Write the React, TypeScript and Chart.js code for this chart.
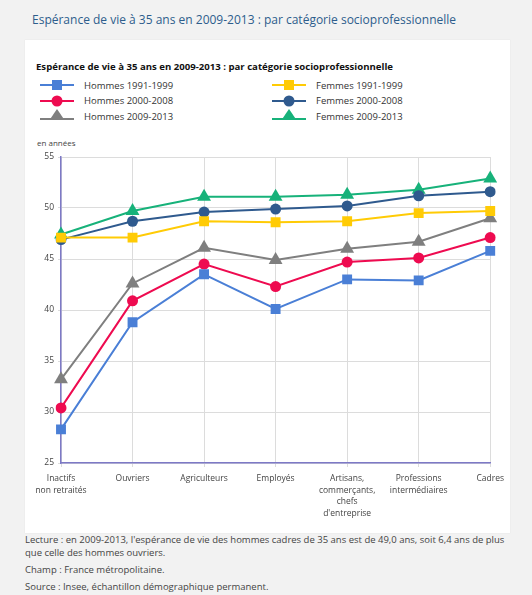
import React, { useEffect, useRef } from "react";
import { Chart, registerables } from "chart.js";
Chart.register(...registerables);

const categories: string[][] = [
  ["Inactifs", "non retraités"],
  ["Ouvriers"],
  ["Agriculteurs"],
  ["Employés"],
  ["Artisans,", "commerçants,", "chefs", "d'entreprise"],
  ["Professions", "intermédiaires"],
  ["Cadres"],
];
const hommes1991 = [28.3, 38.8, 43.5, 40.1, 43.0, 42.9, 45.8];
const hommes2000 = [30.4, 40.9, 44.5, 42.3, 44.7, 45.1, 47.1];
const hommes2009 = [33.2, 42.6, 46.1, 44.9, 46.0, 46.7, 49.0];
const femmes1991 = [47.1, 47.1, 48.7, 48.6, 48.7, 49.5, 49.7];
const femmes2000 = [46.9, 48.7, 49.6, 49.9, 50.2, 51.2, 51.6];
const femmes2009 = [47.4, 49.7, 51.1, 51.1, 51.3, 51.8, 52.9];
const yMin = 25;
const yMax = 55;
const yStep = 5;

const FONT = "'Open Sans', 'Noto Sans', sans-serif";

type S = { label: string; data: number[]; color: string; style: "rect" | "circle" | "triangle"; radius: number };
const series: S[] = [
  { label: "Hommes 1991-1999", data: hommes1991, color: "#4a7fd6", style: "rect", radius: 7 },
  { label: "Femmes 1991-1999", data: femmes1991, color: "#ffcb05", style: "rect", radius: 7 },
  { label: "Hommes 2000-2008", data: hommes2000, color: "#ee0b50", style: "circle", radius: 5.5 },
  { label: "Femmes 2000-2008", data: femmes2000, color: "#2f5a8e", style: "circle", radius: 5.5 },
  { label: "Hommes 2009-2013", data: hommes2009, color: "#7f7f7f", style: "triangle", radius: 8 },
  { label: "Femmes 2009-2013", data: femmes2009, color: "#17b27a", style: "triangle", radius: 8 },
];

function Marker({ s }: { s: S }) {
  let shape: React.ReactNode = null;
  if (s.style === "rect") shape = <rect x={12} y={2} width={10} height={10} fill={s.color} />;
  else if (s.style === "circle") shape = <circle cx={17} cy={7} r={5.5} fill={s.color} />;
  else shape = <polygon points="17,0 24.5,11 9.5,11" fill={s.color} />;
  return (
    <svg width={34} height={14} style={{ display: "block" }}>
      <line x1={0} y1={s.style === "triangle" ? 10 : 7} x2={34} y2={s.style === "triangle" ? 10 : 7} stroke={s.color} strokeWidth={2} />
      {shape}
    </svg>
  );
}

export default function App() {
  const ref = useRef<HTMLCanvasElement>(null);
  useEffect(() => {
    if (!ref.current) return;
    const chart = new Chart(ref.current, {
      type: "line",
      data: {
        labels: categories,
        datasets: series.map((s) => ({
          label: s.label,
          data: s.data,
          borderColor: s.color,
          backgroundColor: s.color,
          borderWidth: 2,
          pointStyle: s.style,
          pointRadius: s.radius,
          pointBorderWidth: 0,
          pointBackgroundColor: s.color,
          tension: 0,
        })),
      },
      options: {
        animation: false,
        responsive: false,
        maintainAspectRatio: false,
        layout: { padding: { left: 0, top: 27, right: 18, bottom: 0 } },
        plugins: { legend: { display: false }, tooltip: { enabled: false } },
        scales: {
          x: {
            offset: false,
            grid: { color: "#dcdcdc", lineWidth: 1, tickLength: 4 },
            border: { color: "#7d79c6", width: 1.5 },
            ticks: {
              autoSkip: false,
              maxRotation: 0,
              minRotation: 0,
              padding: 6,
              color: "#444",
              font: { family: FONT, size: 8.5, lineHeight: 1.35 },
            },
            afterFit: (sc: any) => {
              sc.height = 57;
            },
          },
          y: {
            min: yMin,
            max: yMax,
            ticks: {
              stepSize: yStep,
              color: "#444",
              padding: 4,
              font: { family: FONT, size: 8.5 },
            },
            grid: { color: "#dcdcdc", lineWidth: 1, tickLength: 3 },
            border: { color: "#7d79c6", width: 1.5 },
            afterFit: (sc: any) => {
              sc.width = 36;
            },
          },
        },
      },
    });
    return () => chart.destroy();
  }, []);

  return (
    <div style={{ position: "absolute", left: 0, top: 0, width: 532, height: 595, background: "#f2f2f2", fontFamily: FONT, overflow: "hidden" }}>
      <div style={{ position: "absolute", left: 32, top: 11, fontSize: 12, fontWeight: 500, color: "#2d5d8c", whiteSpace: "nowrap" }}>
        Espérance de vie à 35 ans en 2009-2013 : par catégorie socioprofessionnelle
      </div>
      <div style={{ position: "absolute", left: 25, top: 40, width: 485, height: 493, background: "#fff", boxShadow: "0 0 1px #ddd" }}>
        <div style={{ position: "absolute", left: 11, top: 20, fontSize: 9.6, fontWeight: 700, color: "#111", whiteSpace: "nowrap" }}>
          Espérance de vie à 35 ans en 2009-2013 : par catégorie socioprofessionnelle
        </div>
        {series.map((s, i) => {
          const col = i % 2;
          const row = Math.floor(i / 2);
          return (
            <div key={s.label} style={{ position: "absolute", left: col === 0 ? 15 : 247, top: 38 + row * 15.5, display: "flex", alignItems: "center" }}>
              <Marker s={s} />
              <span style={{ marginLeft: 10, fontSize: 9.5, color: "#333", whiteSpace: "nowrap" }}>{s.label}</span>
            </div>
          );
        })}
        <div style={{ position: "absolute", left: 12, top: 97, fontSize: 8, color: "#444", whiteSpace: "nowrap" }}>en années</div>
        <canvas ref={ref} width={485} height={390} style={{ position: "absolute", left: 0, top: 90, width: 485, height: 390 }} />
      </div>
      <div style={{ position: "absolute", left: 25, top: 533, width: 490, fontSize: 9.5, color: "#444", lineHeight: "13px" }}>
        <div>Lecture : en 2009-2013, l'espérance de vie des hommes cadres de 35 ans est de 49,0 ans, soit 6,4 ans de plus que celle des hommes ouvriers.</div>
        <div style={{ marginTop: 4 }}>Champ : France métropolitaine.</div>
        <div style={{ marginTop: 4 }}>Source : Insee, échantillon démographique permanent.</div>
      </div>
    </div>
  );
}
